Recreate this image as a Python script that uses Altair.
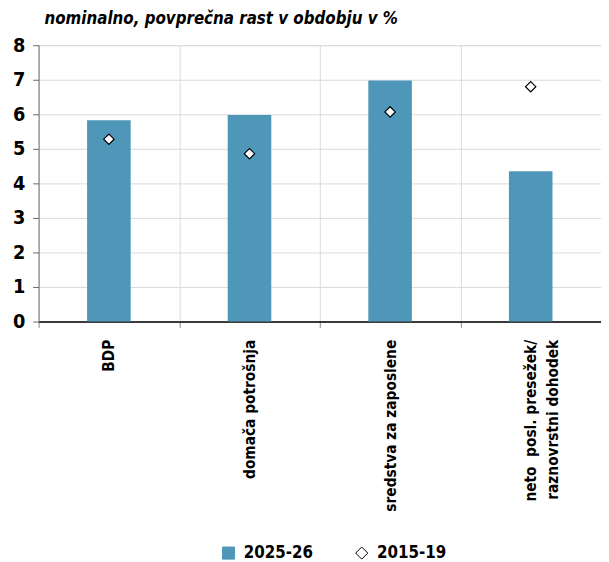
import altair as alt
import pandas as pd

categories = ["BDP", "domača potrošnja", "sredstva za zaposlene",
              "neto\u00a0 posl. presežek/|raznovrstni dohodek"]
values_2025_26 = [5.83, 5.98, 6.98, 4.35]
values_2015_19 = [5.28, 4.86, 6.07, 6.80]
series = ["2025-26", "2015-19"]

FONT = "DejaVu Sans Condensed"

df = pd.DataFrame(
    [{"cat": c, "series": series[0], "value": v} for c, v in zip(categories, values_2025_26)]
    + [{"cat": c, "series": series[1], "value": v} for c, v in zip(categories, values_2015_19)]
)

x = alt.X("cat:N", sort=categories, title=None,
          scale=alt.Scale(paddingInner=0, paddingOuter=0),
          axis=alt.Axis(labelAngle=-90, labelExpr="split(datum.label, '|')",
                        labelFontSize=15.5, labelPadding=12, labelLineHeight=22,
                        labelColor="black", labelFont=FONT, labelFontWeight="bold",
                        tickBand="extent", tickSize=6, tickColor="#888888",
                        domainColor="black", domainWidth=1.5,
                        grid=True, gridColor="#d9d9d9"))
y = alt.Y("value:Q", title=None,
          scale=alt.Scale(domain=[0, 8], nice=False),
          axis=alt.Axis(values=list(range(0, 9)), labelFontSize=20, labelFont=FONT,
                        labelFontWeight="bold", labelColor="black", labelPadding=8,
                        tickSize=6, tickColor="#666666", domainColor="#777777",
                        grid=True, gridColor="#d9d9d9"))

color = alt.Color("series:N", title=None,
                  scale=alt.Scale(domain=series, range=["#4F97B8", "white"]),
                  legend=alt.Legend(orient="none", direction="horizontal",
                                    legendX=184, legendY=506,
                                    labelFontSize=17, labelFont=FONT, labelFontWeight="bold",
                                    labelColor="black", symbolSize=150, columnPadding=40,
                                    symbolStrokeWidth=1, labelOffset=7))
shape = alt.Shape("series:N", title=None,
                  scale=alt.Scale(domain=series, range=["square", "diamond"]))
stroke = alt.Stroke("series:N", title=None,
                    scale=alt.Scale(domain=series, range=["#4F97B8", "black"]))

bars = alt.Chart(df).transform_filter(alt.datum.series == series[0]).mark_bar(
    width=alt.RelativeBandSize(0.31)).encode(x=x, y=y, color=color)
points = alt.Chart(df).transform_filter(alt.datum.series == series[1]).mark_point(
    filled=True, size=110, strokeWidth=1.2, opacity=1).encode(
    x=x, y=y, color=color, shape=shape, stroke=stroke)

chart = alt.layer(bars, points).properties(
    width=570, height=280,
    title=alt.TitleParams("nominalno, povprečna rast v obdobju v %", anchor="start",
                          frame="group", font=FONT, fontSize=17, fontStyle="italic",
                          fontWeight="bold", color="black", dx=6, offset=8),
    autosize=alt.AutoSizeParams(type="none"),
    padding={"left": 31, "top": 34, "right": 0, "bottom": 240},
).configure_view(stroke=None).configure(background="white")

chart.save("out.html", embed_options={"renderer": "svg", "actions": False})
